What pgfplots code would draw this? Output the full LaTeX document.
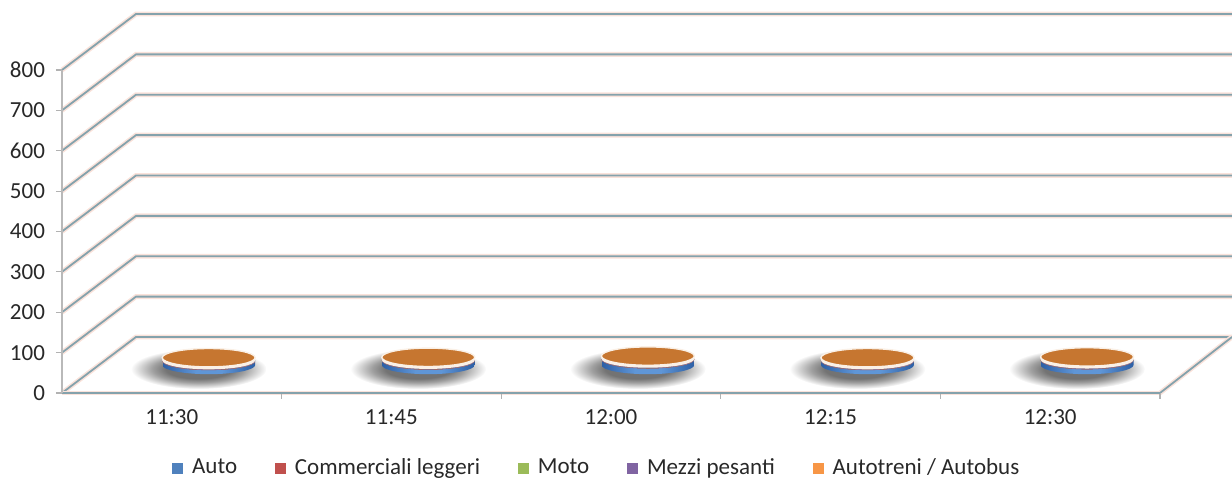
\documentclass[border=0pt]{standalone}
\usepackage{fontspec}
\setmainfont{Carlito}
\usepackage{pgfplots}
\pgfplotsset{compat=1.18}
\usepackage{pgfplotstable}

\definecolor{ablue}{RGB}{79,129,189}
\definecolor{ared}{RGB}{192,80,77}
\definecolor{agreen}{RGB}{155,187,89}
\definecolor{apurple}{RGB}{128,100,162}
\definecolor{aorange}{RGB}{247,150,70}
\definecolor{gridc}{RGB}{132,162,172}
\definecolor{haloc}{RGB}{250,226,218}
\definecolor{labc}{RGB}{40,40,40}
\definecolor{ctop}{RGB}{198,118,48}
\definecolor{cream}{RGB}{250,240,230}
\definecolor{bluedk}{RGB}{45,95,165}
\definecolor{bluelt}{RGB}{95,150,215}
\definecolor{shadc}{RGB}{115,115,115}
\definecolor{shadm}{RGB}{160,160,160}

\pgfdeclarehorizontalshading{blueside}{50bp}{color(0bp)=(bluedk); color(18bp)=(bluelt); color(32bp)=(bluelt); color(50bp)=(bluedk)}
\pgfdeclareradialshading{shadowsh}{\pgfpoint{0bp}{0bp}}{color(0bp)=(shadc); color(12bp)=(shadc); color(17bp)=(shadm); color(25bp)=(white)}

\newdimen\segdim
\newcommand\cylpath{%
  \pgfmathsetlength{\segdim}{0.201875*\hval}%
  \pgfpathmoveto{\pgfqpoint{-23.25pt}{0pt}}%
  \pgfpatharc{180}{360}{23.25pt and 4.6pt}%
  \pgfpathlineto{\pgfqpoint{23.25pt}{\segdim}}%
  \pgfpatharc{0}{-180}{23.25pt and 4.6pt}%
  \pgfpathclose}

\pgfdeclareplotmark{shadowmk}{%
  \pgfpathellipse{\pgfqpoint{-5pt}{-2pt}}{\pgfqpoint{34pt}{0pt}}{\pgfqpoint{0pt}{10pt}}%
  \pgfshadepath{shadowsh}{0}%
  \pgfusepath{}}
\pgfdeclareplotmark{cylblue}{%
  \cylpath\pgfshadepath{blueside}{0}\pgfusepath{}}
\pgfdeclareplotmark{cylflat}{%
  \cylpath\pgfsetfillcolor{\cylfill}\pgfusepath{fill}}
\pgfdeclareplotmark{cyltop}{%
  \cylpath\pgfsetfillcolor{cream}\pgfusepath{fill}%
  \pgfpathellipse{\pgfqpoint{0pt}{\segdim}}{\pgfqpoint{23.25pt}{0pt}}{\pgfqpoint{0pt}{4.6pt}}%
  \pgfsetfillcolor{ctop}\pgfsetstrokecolor{cream}\pgfsetlinewidth{0.7pt}%
  \pgfusepath{fill,stroke}}

\pgfplotsset{
  cylser/.style 2 args={forget plot, only marks, scatter, mark=#1,
    scatter/@pre marker code/.code={\scope\def\cylfill{#2}},
    scatter/@post marker code/.code={\endscope}},
}
\tikzset{
  gl/.style={draw=gridc, line width=0.9pt},
  halo/.style={draw=haloc, line width=2.4pt},
}

\pgfplotstableread{
x auto comm moto mezzi autob
0 10 1 0 1 6
1 11 1 0 1 6
2 14 1 0 1 6
3 10 1 0 1 6
4 12 1 0 1 6
}\datatable

\begin{document}
\begin{tikzpicture}
\begin{axis}[
  set layers,
  width=549pt, height=161.5pt, scale only axis,
  xmin=-0.5, xmax=4.5, ymin=0, ymax=800,
  clip=false,
  axis x line*=bottom, axis y line*=left, axis line style={-},
  x axis line style={draw=gridc, line width=1pt},
  y axis line style={draw=gray!55, line width=0.6pt},
  xtick={0,...,4}, xticklabels={11:30,11:45,12:00,12:15,12:30},
  xtick style={draw=none},
  ytick={0,100,...,800},
  ytick style={draw=gray!60, line width=0.6pt},
  tick align=outside, major tick length=3pt,
  ticklabel style={font=\fontsize{11.5}{13.5}\selectfont, text=labc},
  yticklabel style={xshift=-2pt},
  xticklabel style={yshift=-2pt},
  /pgf/number format/assume math mode=true,
  legend columns=5,
  legend style={at={(0.488,-0.232)}, anchor=center, draw=none, fill=none,
    font=\fontsize{11.5}{13.5}\selectfont, text=labc,
    /tikz/every odd column/.append style={column sep=2.5pt},
    /tikz/every even column/.append style={column sep=17pt}},
  legend image code/.code={\fill[#1] (0pt,-2.5pt) rectangle (5pt,2.5pt);},
]
\begin{pgfonlayer}{axis grid}
\pgfplotsinvokeforeach{0,100,...,800}{
  \draw[halo] (axis cs:-0.5,#1) -- (axis cs:-0.163,{#1+138.7}) -- (axis cs:4.828,{#1+138.7});
  \draw[gl] (axis cs:-0.5,#1) -- (axis cs:-0.163,{#1+138.7}) -- (axis cs:4.828,{#1+138.7});
}
\draw[halo] (axis cs:4.5,0) -- (axis cs:4.828,138.7);
\draw[gl] (axis cs:4.5,0) -- (axis cs:4.828,138.7);
\draw[halo] (axis cs:-0.5,0) -- (axis cs:4.5,0);
\pgfplotsinvokeforeach{0.5,1.5,...,4.5}{
  \draw[gray!60, line width=0.6pt] (axis cs:#1,0) -- ++(0pt,-3pt);
}
\end{pgfonlayer}

\addlegendimage{ablue}\addlegendentry{Auto}
\addlegendimage{ared}\addlegendentry{Commerciali leggeri}
\addlegendimage{agreen}\addlegendentry{Moto}
\addlegendimage{apurple}\addlegendentry{Mezzi pesanti}
\addlegendimage{aorange}\addlegendentry{Autotreni / Autobus}

\addplot[forget plot, only marks, mark=shadowmk]
  table[x expr=\thisrow{x}+0.168, y expr=69.4]{\datatable};
\addplot[cylser={cylblue}{ablue}, visualization depends on={\thisrow{auto} \as \hval}]
  table[x expr=\thisrow{x}+0.168, y expr=69.4]{\datatable};
\addplot[cylser={cylflat}{ared}, visualization depends on={\thisrow{comm} \as \hval}]
  table[x expr=\thisrow{x}+0.168, y expr=69.4+\thisrow{auto}]{\datatable};
\addplot[cylser={cylflat}{agreen}, visualization depends on={\thisrow{moto} \as \hval}]
  table[x expr=\thisrow{x}+0.168, y expr=69.4+\thisrow{auto}+\thisrow{comm}]{\datatable};
\addplot[cylser={cylflat}{apurple}, visualization depends on={\thisrow{mezzi} \as \hval}]
  table[x expr=\thisrow{x}+0.168, y expr=69.4+\thisrow{auto}+\thisrow{comm}+\thisrow{moto}]{\datatable};
\addplot[cylser={cyltop}{aorange}, visualization depends on={\thisrow{autob} \as \hval}]
  table[x expr=\thisrow{x}+0.168, y expr=69.4+\thisrow{auto}+\thisrow{comm}+\thisrow{moto}+\thisrow{mezzi}]{\datatable};

\coordinate (bbl) at (axis cs:-0.7823,-227.9);
\coordinate (btr) at (axis cs:4.828,973.4);
\end{axis}
\pgfresetboundingbox
\path (bbl) rectangle (btr);
\end{tikzpicture}
\end{document}
